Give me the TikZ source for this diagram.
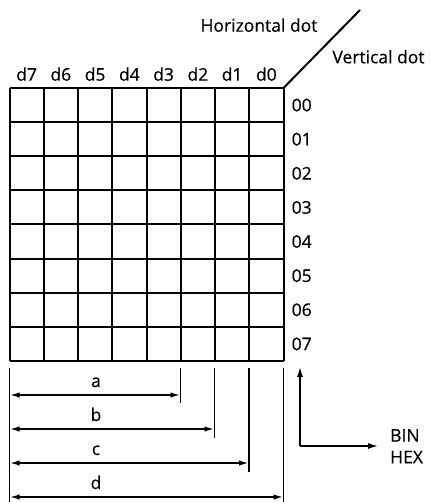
\documentclass[tikz,border=0pt]{standalone}
\usepackage{fontspec}
\setmainfont{Open Sans}
\newfontfamily\lblfont{Open Sans}[FakeBold=0.5]
\usetikzlibrary{arrows.meta}
\begin{document}
\begin{tikzpicture}[x=1pt,y=-1pt,
  lbl/.style={inner sep=0pt,font=\lblfont\fontsize{17.5}{20}\selectfont},
  gridline/.style={line width=2pt},
  extline/.style={line width=1.8pt},
  dimline/.style={line width=1.8pt,{Latex[length=10pt,width=5.5pt]}-{Latex[length=10pt,width=5.5pt]}},
  flowline/.style={line width=2pt,-{Latex[length=11pt,width=6pt]}}]
\useasboundingbox (0,0) rectangle (430,502);
% grid
\foreach \i in {0,...,8}{
  \draw[gridline] ({9.5+34.25*\i},88) -- ({9.5+34.25*\i},361);
  \draw[gridline] (9.5,{88+34.125*\i}) -- (283.5,{88+34.125*\i});
}
% diagonal
\coordinate (corner) at (283.5,88);
\coordinate (diagend) at (360,10);
\draw[gridline] (corner) -- (diagend);
\node[lbl,anchor=base] (hdot) at (259,31.7) {Horizontal dot};
\node[lbl,anchor=base] (vdot) at (378.5,63.3) {Vertical dot};
% column labels
\foreach \t [count=\k from 0] in {d7,d6,d5,d4,d3,d2,d1,d0}{
  \node[lbl,anchor=base] (col\k) at ({9.5+34.25*\k+17.1},80.7) {\t};
}
% row labels
\foreach \t [count=\k from 0] in {00,01,02,03,04,05,06,07}{
  \node[lbl,anchor=west] (row\k) at (291.5,{88+34.125*\k+17.06}) {\t};
}
% extension lines
\coordinate (L0) at (9.5,368); \coordinate (L1) at (9.5,502);
\coordinate (A0) at (180.5,368); \coordinate (A1) at (180.5,403);
\coordinate (B0) at (214.5,368); \coordinate (B1) at (214.5,438);
\coordinate (C0) at (249,368); \coordinate (C1) at (249,472);
\coordinate (D0) at (283.5,368); \coordinate (D1) at (283.5,502);
\foreach \p in {L,A,B,C,D}{\draw[extline] (\p0) -- (\p1);}
% dimension arrows
\coordinate (al) at (9.5,395); \coordinate (ar) at (180.5,395);
\coordinate (bl) at (9.5,429); \coordinate (br) at (214.5,429);
\coordinate (cl) at (9.5,463); \coordinate (cr) at (249,463);
\coordinate (dl) at (9.5,497); \coordinate (dr) at (283.5,497);
\draw[dimline] (al) -- (ar);
\draw[dimline] (bl) -- (br);
\draw[dimline] (cl) -- (cr);
\draw[dimline] (dl) -- (dr);
\node[lbl,anchor=base] (la) at (96,387) {a};
\node[lbl,anchor=base] (lb) at (96,421) {b};
\node[lbl,anchor=base] (lc) at (96,455) {c};
\node[lbl,anchor=base] (ld) at (96,489) {d};
% BIN/HEX arrows
\coordinate (elbow) at (300,446);
\coordinate (uptip) at (300,366);
\coordinate (righttip) at (379,446);
\draw[flowline] (elbow) -- (uptip);
\draw[flowline] (elbow) -- (righttip);
\node[lbl,anchor=base west] (bin) at (390,441.7) {BIN};
\node[lbl,anchor=base west] (hex) at (390,463.3) {HEX};
\end{tikzpicture}
\end{document}
